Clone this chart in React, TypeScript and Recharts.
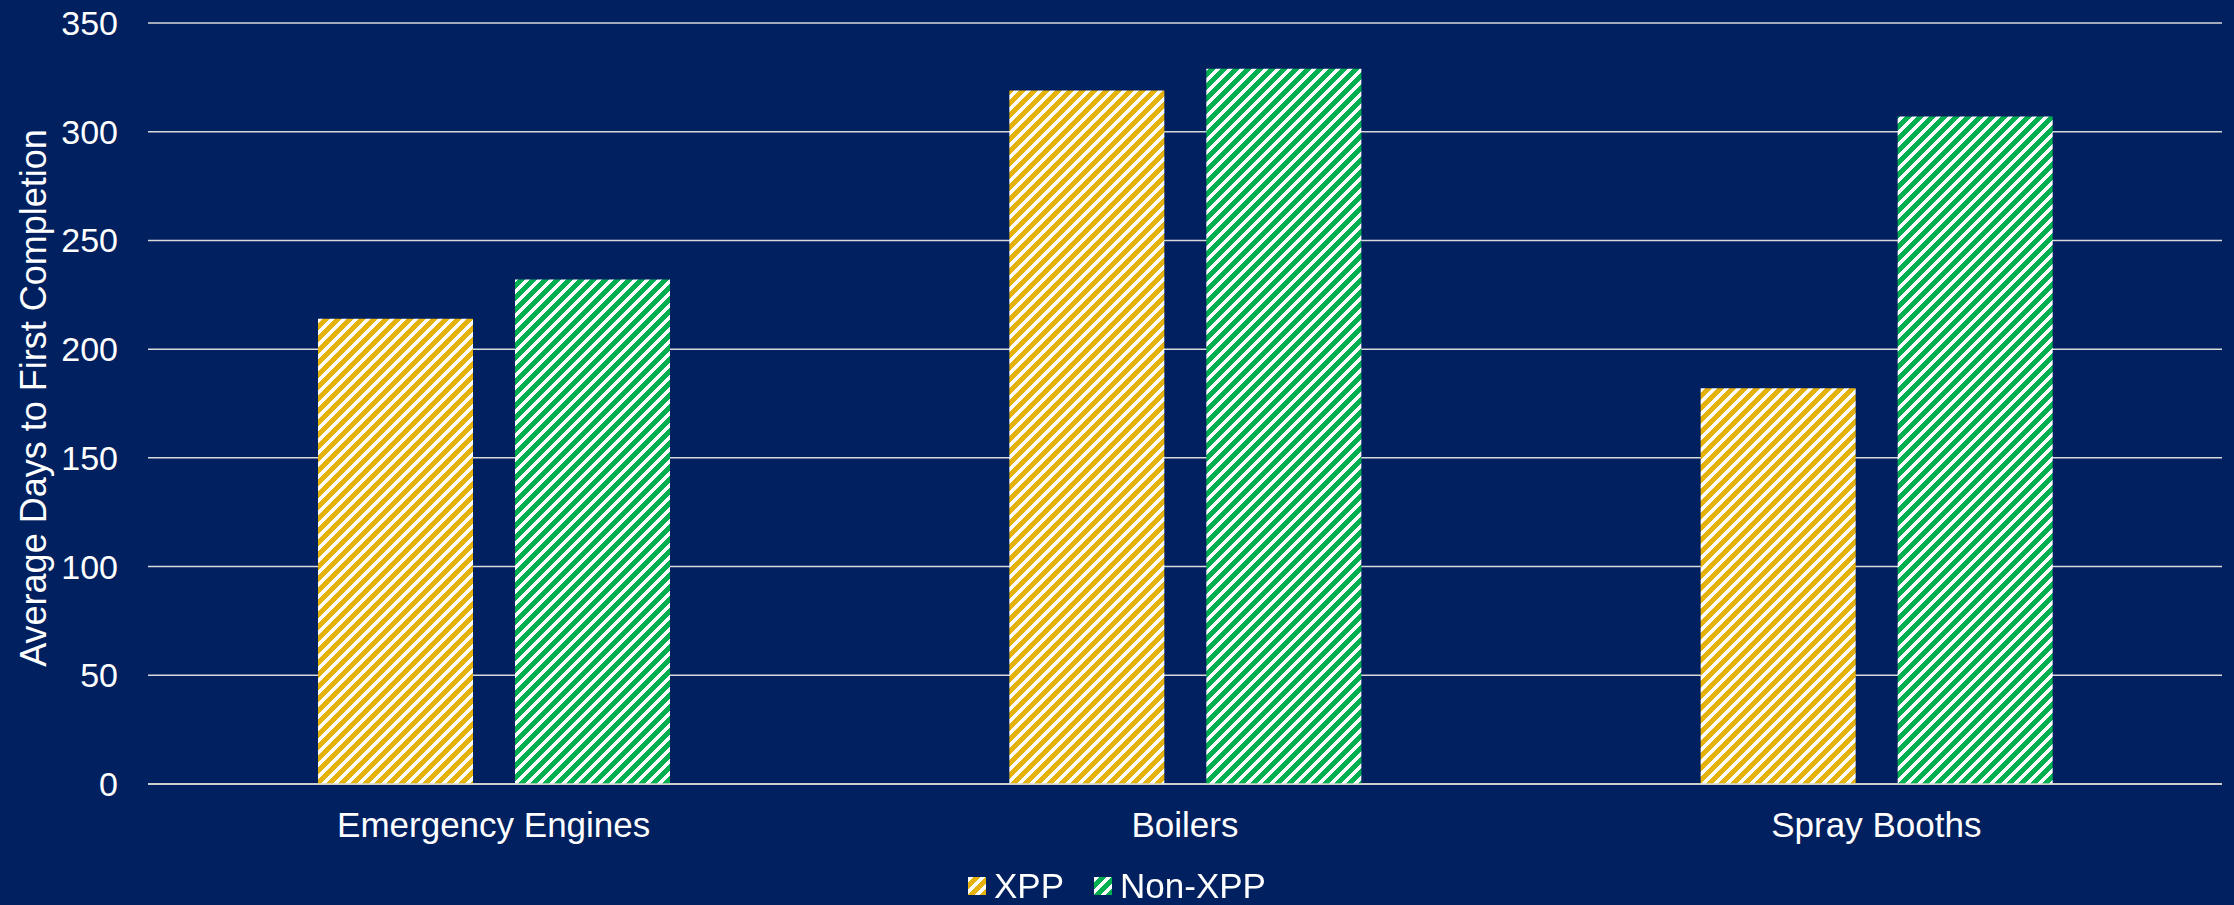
import React from 'react';
import { BarChart, Bar, XAxis, YAxis, CartesianGrid, Legend, Label } from 'recharts';

const categories = ['Emergency Engines', 'Boilers', 'Spray Booths'];
const xppValues = [214, 319, 182];
const nonXppValues = [232, 329, 307];
const yTicks = [0, 50, 100, 150, 200, 250, 300, 350];
const seriesNames = ['XPP', 'Non-XPP'];
const yTitle = 'Average Days to First Completion';

const data = categories.map((c, i) => ({ name: c, xpp: xppValues[i], nonXpp: nonXppValues[i] }));

const BG = '#002060';
const GOLD = '#E5B20B';
const GREEN = '#00B050';
const GRID = '#D9D9D9';
const FONT = '"Liberation Sans", Arial, sans-serif';

const TILE = 12;
const WHITE_W = 5;
const stripeRows: { x: number; y: number; w: number }[] = [];
for (let r = 0; r < TILE; r++) {
  const start = ((TILE - r) % TILE + TILE) % TILE;
  const end = start + WHITE_W;
  if (end <= TILE) {
    stripeRows.push({ x: start, y: r, w: WHITE_W });
  } else {
    stripeRows.push({ x: start, y: r, w: TILE - start });
    stripeRows.push({ x: 0, y: r, w: end - TILE });
  }
}

const StripePattern = ({ id, color }: { id: string; color: string }) => (
  <pattern id={id} patternUnits="userSpaceOnUse" x={0} y={0} width={TILE} height={TILE}>
    <rect x={0} y={0} width={TILE} height={TILE} fill={color} shapeRendering="crispEdges" />
    {stripeRows.map((p, i) => (
      <rect key={i} x={p.x} y={p.y} width={p.w} height={1} fill="#FFFFFF" shapeRendering="crispEdges" />
    ))}
  </pattern>
);

const patternIds = ['patXpp', 'patNonXpp'];

const renderLegend = () => (
  <div
    style={{
      display: 'flex',
      justifyContent: 'center',
      alignItems: 'center',
      height: 40,
      fontFamily: FONT,
      fontSize: 35,
      color: '#FFFFFF',
      lineHeight: '40px',
    }}
  >
    {seriesNames.map((n, i) => (
      <div key={n} style={{ display: 'flex', alignItems: 'center', marginRight: i === 0 ? 30 : 0 }}>
        <svg width={18} height={18} style={{ display: 'block' }}>
          <rect x={0} y={0} width={18} height={18} fill={`url(#${patternIds[i]})`} shapeRendering="crispEdges" />
        </svg>
        <span style={{ marginLeft: 8 }}>{n}</span>
      </div>
    ))}
  </div>
);

const renderTitle = () => (
  <text
    x={46}
    y={398}
    transform="rotate(-90 46 398)"
    textAnchor="middle"
    fill="#FFFFFF"
    fontFamily={FONT}
    fontSize={36}
  >
    {yTitle}
  </text>
);

export default function App() {
  return (
    <div style={{ position: 'fixed', left: 0, top: 0, width: 2234, height: 905, background: BG }}>
      <BarChart
        width={2234}
        height={905}
        data={data}
        margin={{ top: 23, right: 12, bottom: 21, left: 0 }}
        barSize={155}
        barGap={42}
      >
        <defs>
          <StripePattern id={patternIds[0]} color={GOLD} />
          <StripePattern id={patternIds[1]} color={GREEN} />
        </defs>
        <CartesianGrid vertical={false} stroke={GRID} strokeWidth={1.5} />
        <XAxis
          dataKey="name"
          height={60}
          tickLine={false}
          tickSize={0}
          tickMargin={28}
          axisLine={{ stroke: GRID, strokeWidth: 1.5 }}
          tick={{ fill: '#FFFFFF', fontFamily: FONT, fontSize: 35 }}
          interval={0}
        />
        <YAxis
          width={148}
          domain={[0, 350]}
          ticks={yTicks}
          interval={0}
          axisLine={false}
          tickLine={false}
          tickSize={0}
          tickMargin={30}
          tick={{ fill: '#FFFFFF', fontFamily: FONT, fontSize: 34 }}
        >
          <Label content={renderTitle} />
        </YAxis>
        <Legend
          verticalAlign="bottom"
          content={renderLegend}
          wrapperStyle={{ top: 866, bottom: 'auto', left: 0, width: 2234 }}
        />
        <Bar dataKey="xpp" name={seriesNames[0]} fill={`url(#${patternIds[0]})`} isAnimationActive={false} />
        <Bar dataKey="nonXpp" name={seriesNames[1]} fill={`url(#${patternIds[1]})`} isAnimationActive={false} />
      </BarChart>
    </div>
  );
}
